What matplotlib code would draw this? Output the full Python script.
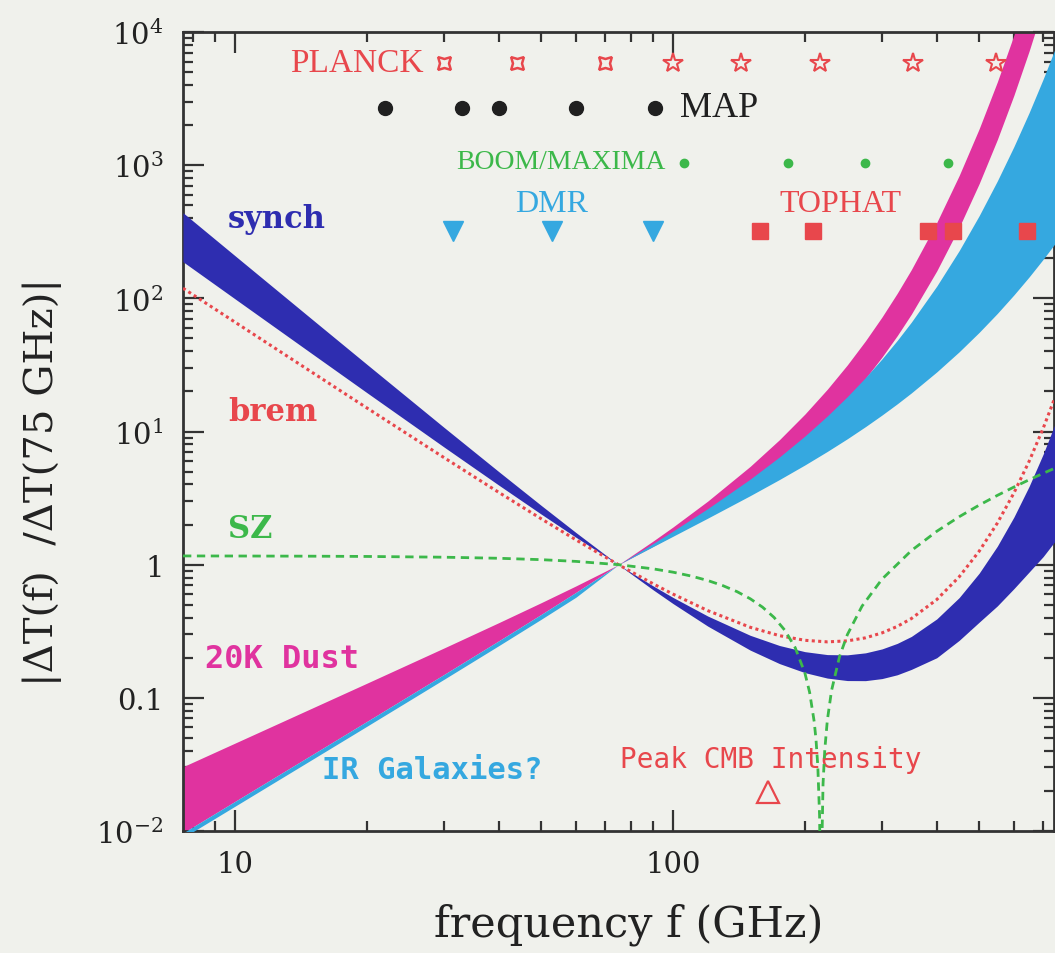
import matplotlib
matplotlib.use("Agg")
import matplotlib.pyplot as plt
from matplotlib.ticker import FixedLocator, FixedFormatter, LogLocator, NullFormatter

plt.rcParams['mathtext.fontset'] = 'dejavuserif'

# ---------------- data ----------------
freq = [7.6, 10, 15, 20, 30, 40, 50, 60, 75, 90, 100, 120, 150, 175, 200, 225, 250,
        275, 300, 325, 350, 400, 450, 500, 550, 600, 650, 700, 745]

synch_a = [439.4, 208.4, 69.41, 31.89, 10.72, 4.992, 2.783, 1.743, 1.0, 0.6477,
           0.5098, 0.3455, 0.2282, 0.1807, 0.1546, 0.1407, 0.1348, 0.1346, 0.1395,
           0.1490, 0.1635, 0.2000, 0.2700, 0.3700, 0.4900, 0.6600, 0.8800, 1.150, 1.500]
synch_b = [188.3, 98.91, 38.28, 19.55, 7.638, 3.955, 2.395, 1.606, 1.0, 0.6932,
           0.5670, 0.4113, 0.2948, 0.2471, 0.2222, 0.2112, 0.2103, 0.2177, 0.2330,
           0.2564, 0.2891, 0.3913, 0.5657, 0.8636, 1.376, 2.275, 3.871, 6.764, 11.40]

brem = [119.1, 66.11, 27.74, 15.01, 6.359, 3.488, 2.209, 1.536, 1.0, 0.7189,
        0.6006, 0.4518, 0.3387, 0.2929, 0.2704, 0.2632, 0.2677, 0.2822, 0.3074,
        0.3438, 0.3936, 0.5466, 0.8096, 1.262, 2.050, 3.447, 5.962, 10.57, 18.04]

dust_a = [0.009673, 0.01672, 0.03751, 0.06660, 0.1500, 0.2682, 0.4234, 0.6195, 1.0,
          1.504, 1.921, 3.003, 5.473, 8.690, 13.52, 20.77, 31.65, 47.98, 72.48,
          109.2, 164.4, 371.1, 835.4, 1878, 4215, 9450, 21150, 47300, 97550]
dust_b = [0.03039, 0.04577, 0.08387, 0.1289, 0.2370, 0.3671, 0.5186, 0.6926, 1.0,
          1.373, 1.664, 2.374, 3.870, 5.689, 8.282, 11.99, 17.34, 25.05, 36.25,
          52.48, 76.10, 160.7, 341.0, 727.4, 1556, 3341, 7183, 15480, 30950]

irgal_a = [0.009673, 0.01672, 0.03751, 0.06660, 0.1500, 0.2682, 0.4234, 0.6195, 1.0,
           1.441, 1.790, 2.638, 4.390, 6.446, 9.252, 13.08, 18.30, 25.42, 35.13,
           48.34, 66.27, 123.5, 228.0, 417.8, 760.9, 1377, 2476, 4436, 7468]
irgal_b = [0.00890, 0.01538, 0.03451, 0.06127, 0.1380, 0.2467, 0.3895, 0.5699, 1.0,
           1.367, 1.636, 2.236, 3.299, 4.361, 5.61, 7.087, 8.825, 10.88, 13.30,
           16.14, 19.49, 28.02, 39.67, 55.56, 77.01, 106.0, 144.7, 196.5, 257.7]

freq_sz = [7.6, 10, 15, 20, 30, 40, 50, 60, 75, 90, 100, 110, 120, 130, 140, 150,
           160, 170, 180, 190, 200, 205, 210, 212, 214, 216, 217, 218, 220, 222, 225,
           230, 240, 250, 270, 300, 350, 400, 450, 500, 550, 600, 650, 700, 745]
sz = [1.1629, 1.1616, 1.1579, 1.1526, 1.1377, 1.1169, 1.0903, 1.0582, 1.0, 0.9304,
      0.8781, 0.8213, 0.7603, 0.6954, 0.6269, 0.5549, 0.4799, 0.4020, 0.3214, 0.2384,
      0.1533, 0.1100, 0.06621, 0.04857, 0.03087, 0.01309, 0.004175, 0.00475, 0.02266,
      0.04061, 0.06769, 0.1131, 0.2050, 0.2982, 0.4878, 0.7788, 1.2753, 1.7801,
      2.2891, 2.8001, 3.3120, 3.8244, 4.3370, 4.8497, 5.3112]

planck_lfi = [30, 44, 70]
planck_hfi = [100, 143, 217, 353, 545]
planck_level = 5850
map_freq = [22, 33, 40, 60, 91]
map_level = 2690
boom_freq = [106, 183, 274, 425]
boom_level = 1035
dmr_freq = [31.5, 53, 90]
dmr_level = 320
tophat_freq = [158, 209, 382, 435, 643]
tophat_level = 318
cmb_peak_freq = [165]
cmb_peak_level = [0.0196]

xticks = [10, 100]
xticklabels = ['10', '100']
yticks = [1e-2, 1e-1, 1, 1e1, 1e2, 1e3, 1e4]
yticklabels = [r'10$^{-2}$', '0.1', '1', r'10$^{1}$', r'10$^{2}$', r'10$^{3}$', r'10$^{4}$']

# ---------------- styling ----------------
bg = '#f0f1ec'
c_synch = '#2e2db0'
c_dust = '#e0339f'
c_ir = '#35a8e0'
c_red = '#e8474c'
c_green = '#3cb84a'

W, H = 1055, 954
fig = plt.figure(figsize=(W / 100, H / 100), dpi=100, facecolor=bg)
ax = fig.add_axes([183 / W, 1 - 832 / H, (1054 - 183) / W, (832 - 33) / H])
ax.set_facecolor(bg)
ax.set_xscale('log')
ax.set_yscale('log')
ax.set_xlim(7.6, 741)
ax.set_ylim(1e-2, 1e4)

ax.fill_between(freq, dust_a, dust_b, color=c_dust, lw=0, zorder=2)
ax.fill_between(freq, irgal_a, irgal_b, color=c_ir, lw=0, zorder=3)
ax.fill_between(freq, synch_a, synch_b, color=c_synch, lw=0, zorder=4)
ax.plot(freq, brem, color=c_red, lw=2.2, ls=(0, (1, 1.1)), zorder=5)
ax.plot(freq_sz, sz, color=c_green, lw=2, ls=(0, (3, 2)), zorder=5)

# experiment channels
ax.plot(planck_lfi, [planck_level] * len(planck_lfi), ls='none', marker=(4, 1, 45),
        ms=13, mfc='none', mec=c_red, mew=1.8, zorder=6)
ax.plot(planck_hfi, [planck_level] * len(planck_hfi), ls='none', marker='*',
        ms=15, mfc='none', mec=c_red, mew=1.5, zorder=6)
ax.plot(map_freq, [map_level] * len(map_freq), ls='none', marker='o', ms=10,
        color='#202020', zorder=6)
ax.plot(boom_freq, [boom_level] * len(boom_freq), ls='none', marker='o', ms=6,
        color=c_green, zorder=6)
ax.plot(dmr_freq, [dmr_level] * len(dmr_freq), ls='none', marker='v', ms=15,
        color=c_ir, zorder=6)
ax.plot(tophat_freq, [tophat_level] * len(tophat_freq), ls='none', marker='s', ms=11,
        color=c_red, zorder=6)
ax.plot(cmb_peak_freq, cmb_peak_level, ls='none', marker='^', ms=16, mfc='none',
        mec=c_red, mew=1.6, zorder=6)

# labels
serif = 'Liberation Serif'
ax.text(13.35, 5850, 'PLANCK', color=c_red, fontsize=24, family=serif, va='center', ha='left')
ax.text(103.7, 2690, 'MAP', color='#202020', fontsize=26, family=serif, va='center', ha='left')
ax.text(96, 1072, 'BOOM/MAXIMA', color=c_green, fontsize=20, family=serif, va='center', ha='right')
ax.text(52.9, 518, 'DMR', color=c_ir, fontsize=23, family=serif, va='center', ha='center')
ax.text(240.5, 518, 'TOPHAT', color=c_red, fontsize=23, family=serif, va='center', ha='center')

ax.text(9.64, 399, 'synch', color=c_synch, fontsize=22, family='DejaVu Serif',
        weight='bold', va='center', ha='left')
ax.text(9.64, 14.1, 'brem', color=c_red, fontsize=22, family='DejaVu Serif',
        weight='bold', va='center', ha='left')
ax.text(9.64, 1.866, 'SZ', color=c_green, fontsize=22, family='DejaVu Serif',
        weight='bold', va='center', ha='left')
ax.text(8.54, 0.196, '20K Dust', color=c_dust, fontsize=23, family='DejaVu Sans Mono',
        weight='bold', va='center', ha='left')
ax.text(15.8, 0.0292, 'IR Galaxies?', color=c_ir, fontsize=22, family='DejaVu Sans Mono',
        weight='bold', va='center', ha='left')
ax.text(75.7, 0.0348, 'Peak CMB Intensity', color=c_red, fontsize=20,
        family='DejaVu Sans Mono', va='center', ha='left')

# axes / ticks
ax.xaxis.set_major_locator(FixedLocator(xticks))
ax.xaxis.set_major_formatter(FixedFormatter(xticklabels))
ax.xaxis.set_minor_locator(LogLocator(base=10, subs=range(2, 10), numticks=20))
ax.xaxis.set_minor_formatter(NullFormatter())
ax.yaxis.set_major_locator(FixedLocator(yticks))
ax.yaxis.set_major_formatter(FixedFormatter(yticklabels))
ax.yaxis.set_minor_locator(LogLocator(base=10, subs=range(2, 10), numticks=20))
ax.yaxis.set_minor_formatter(NullFormatter())
ax.tick_params(which='both', direction='in', top=True, right=True, color='#333333',
               width=1.6)
ax.tick_params(which='major', length=15, labelsize=21, pad=14)
ax.tick_params(which='minor', length=7)
for lab in ax.get_xticklabels() + ax.get_yticklabels():
    lab.set_family('DejaVu Serif')
    lab.set_color('#222222')
for sp in ax.spines.values():
    sp.set_color('#333333')
    sp.set_linewidth(2)

fig.text(629 / W, 1 - 925 / H, 'frequency f (GHz)', fontsize=31, family='DejaVu Serif',
         color='#222222', ha='center', va='center')
fig.text(42 / W, 1 - 482 / H, '|ΔT(f)  /ΔT(75 GHz)|', fontsize=29, family='DejaVu Serif',
         color='#222222', ha='center', va='center', rotation=90)

fig.savefig('out.png', dpi=100, facecolor=bg)
